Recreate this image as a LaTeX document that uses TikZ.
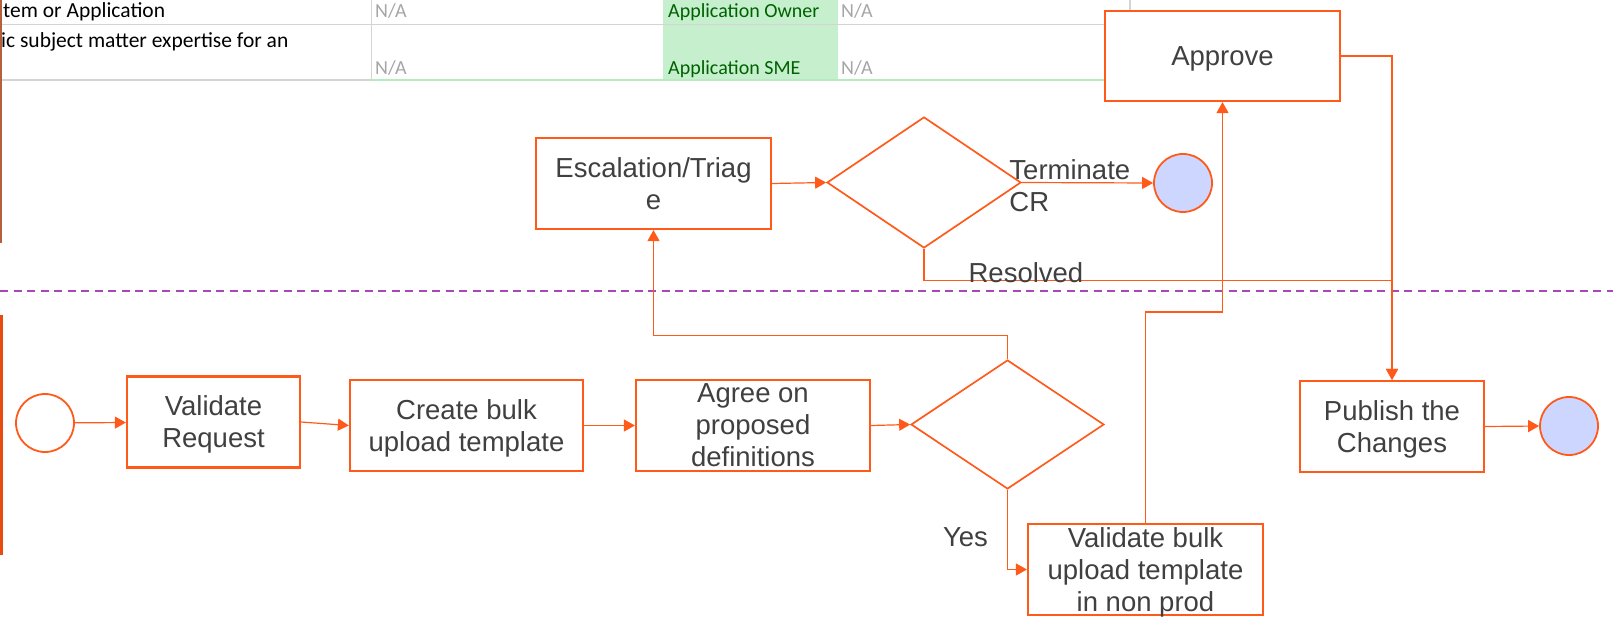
\documentclass[tikz,border=0pt]{standalone}
\usepackage{fontspec}
\setmainfont{Liberation Sans}
\newfontfamily\tablefont{Carlito}
\usetikzlibrary{arrows.meta,shapes.geometric}
\usetikzlibrary{positioning}
\definecolor{flowred}{HTML}{FF5A1A}
\definecolor{txtgray}{HTML}{404040}
\definecolor{endblue}{HTML}{CCD6FF}
\definecolor{lanepurple}{HTML}{A848B8}
\definecolor{laneorange}{HTML}{E84A10}
\definecolor{edgebrown}{HTML}{B5603C}
\definecolor{gridgray}{HTML}{D4D4D4}
\definecolor{gridgreen}{HTML}{B4EBC0}
\definecolor{goodgreen}{HTML}{C6EFCE}
\definecolor{goodtext}{HTML}{006100}
\definecolor{nagray}{HTML}{A6A6A6}
\newcommand{\procfont}{\fontsize{27.5}{32}\selectfont}
\newcommand{\cellfont}{\tablefont\fontsize{20}{24}\selectfont}
\tikzset{
    proc/.style={
           rectangle,
           draw=flowred, line width=2.2pt,
           fill=white,
           text=txtgray,
           font=\procfont,
           minimum height=91pt,
           text depth=0pt,
           inner sep=0pt,
           align=center,
           },
    decision/.style={
           diamond,
           draw=flowred, line width=1.7pt,
           fill=white,
           inner sep=0pt,
           },
    event/.style={
           circle,
           draw=flowred, line width=1.8pt,
           fill=white,
           minimum size=58pt,
           inner sep=0pt,
           },
    lbl/.style={text=txtgray, font=\procfont, inner sep=0pt},
    cell/.style={font=\cellfont, inner sep=0pt, anchor=base west},
    flow/.style={flowred, line width=1.2pt},
}

\begin{document}
\begin{tikzpicture}[x=1pt,y=-1pt,->,>={Triangle[length=11pt,width=12pt]}]
        \useasboundingbox (0,0) rectangle (1613,620);

        % sheet left behind the diagram
        \fill[goodgreen] (663,0) rectangle (838,81);
        \draw[-,gridgray, line width=1.5pt] (0,24.5) -- (1105,24.5);
        \draw[-,gridgray, line width=1.5pt] (0,80) -- (371.5,80);
        \draw[-,gridgreen, line width=1.5pt] (371.5,80) -- (1105,80);
        \draw[-,gridgray, line width=1.2pt] (371.5,0) -- (371.5,80);
        \draw[-,gridgray, line width=1.2pt] (1130,0) -- (1130,11);
        \draw[-,edgebrown, line width=1.2pt] (1,0) -- (1,243);
        \draw[-,laneorange, line width=3pt] (1.5,315) -- (1.5,555);
        \node[cell, font=\tablefont\fontsize{21.5}{24}\selectfont] (ROW_ONE) at (3,18) {tem or Application};
        \node[cell, font=\tablefont\fontsize{21.5}{24}\selectfont] (ROW_TWO) at (1,48) {ic subject matter expertise for an};
        \node[cell, text=nagray] (NA_A) at (375,18) {N/A};
        \node[cell, text=nagray] (NA_B) at (375,75) {N/A};
        \node[cell, text=goodtext] (APP_OWNER) at (668,18) {Application Owner};
        \node[cell, text=goodtext] (APP_SME) at (668,75) {Application SME};
        \node[cell, text=nagray] (NA_C) at (841,18) {N/A};
        \node[cell, text=nagray] (NA_D) at (841,75) {N/A};

        % lane divider
        \draw[-,lanepurple, line width=2.2pt, dash pattern=on 8pt off 5.5pt] (0,291) -- (1613,291);

        % lower lane
        \node[event] (BP_START) at (45,423) {};

        \node[proc,
            minimum width=173pt,
            right of=BP_START,
            yshift=1pt,
            node distance=168.5pt,
            anchor=center] (BP_VALREQ)
        {Validate\\Request};

        \node[proc,
            minimum width=233pt,
            right of=BP_VALREQ,
            yshift=-3.5pt,
            node distance=253pt,
            anchor=center] (BP_TEMPLATE)
        {Create bulk\\upload template};

        \node[proc,
            minimum width=234pt,
            right of=BP_TEMPLATE,
            node distance=286.5pt,
            anchor=center] (BP_AGREE)
        {Agree on\\proposed\\definitions};

        \node[decision,
            minimum width=193pt,
            minimum height=129pt,
            right of=BP_AGREE,
            yshift=1pt,
            node distance=254.5pt,
            anchor=center] (BP_DECIDE) {};

        \node[proc,
            minimum width=235pt,
            below of=BP_DECIDE,
            xshift=138pt,
            node distance=145pt,
            anchor=center] (BP_VALBULK)
        {Validate bulk\\upload template\\in non prod};

        % upper lane
        \node[proc,
            minimum width=235pt,
            above of=BP_AGREE,
            xshift=-99.5pt,
            node distance=242pt,
            anchor=center] (BP_ESCALATE)
        {Escalation/Triag\\e};

        \node[decision,
            minimum width=194pt,
            minimum height=131pt,
            right of=BP_ESCALATE,
            yshift=1pt,
            node distance=270.5pt,
            anchor=center] (BP_TRIAGE) {};

        \node[event, fill=endblue,
            right of=BP_TRIAGE,
            yshift=-0.5pt,
            node distance=259pt,
            anchor=center] (BP_TERM) {};

        \node[proc,
            minimum width=235pt,
            minimum height=90pt,
            above of=BP_VALBULK,
            xshift=77pt,
            node distance=513.5pt,
            anchor=center] (BP_APPROVE)
        {Approve};

        \node[proc,
            minimum width=184pt,
            right of=BP_DECIDE,
            yshift=-2pt,
            node distance=384.5pt,
            anchor=center] (BP_PUBLISH)
        {Publish the\\Changes};

        \node[event, fill=endblue,
            right of=BP_PUBLISH,
            yshift=0.5pt,
            node distance=177pt,
            anchor=center] (BP_END) {};

        % straight connectors
        \path[flow]
            (BP_START)     edge (BP_VALREQ)
            (BP_VALREQ.east)   edge (BP_TEMPLATE.west)
            (BP_TEMPLATE)  edge (BP_AGREE)
            (BP_AGREE.east)    edge (BP_DECIDE.west)
            (BP_ESCALATE.east) edge (BP_TRIAGE.west)
            (BP_TRIAGE.east)   edge node[lbl, align=left, anchor=base west, pos=0, xshift=-13pt, yshift=-29.5pt]{Terminate\\CR} (BP_TERM.west)
            (BP_PUBLISH.east)  edge (BP_END.west)
            ;

        % elbow connectors
        \draw[flow] (BP_DECIDE.north) -- ++(0,-24) -| (BP_ESCALATE.south);
        \draw[flow] (BP_DECIDE.south) |- node[lbl, pos=0.3, left=19pt]{Yes} (BP_VALBULK.west);
        \draw[flow] (BP_VALBULK.north) -- ++(0,-211) -| (BP_APPROVE.south);
        \draw[flow] (BP_APPROVE.east) -| (BP_PUBLISH.north);
        \draw[flow] (BP_TRIAGE.south) -- ++(0,32) node[lbl, anchor=base west, xshift=44pt, yshift=-2pt]{Resolved} -| (BP_PUBLISH.north);

\end{tikzpicture}
\end{document}
